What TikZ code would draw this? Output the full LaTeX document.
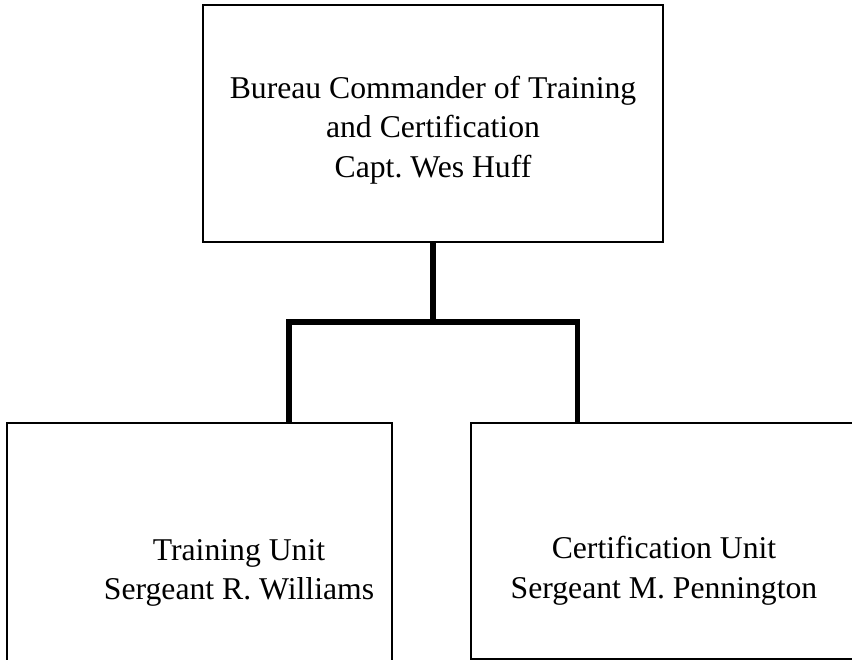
\documentclass[tikz,border=0pt]{standalone}
\usepackage{fontspec}
\setmainfont{Liberation Serif}
\frenchspacing
\begin{document}
\begin{tikzpicture}[x=1pt,y=-1pt,
  box/.style={draw=black, line width=1.6pt, rectangle, inner sep=0pt},
  label/.style={inner sep=0pt, align=center, font=\fontsize{31.7}{39.5}\selectfont},
  conn/.style={draw=black, line width=5.5pt, line join=miter, line cap=butt}]
\useasboundingbox (0,0) rectangle (852,660);
\clip (0,0) rectangle (852,660);
\fill[white] (0,0) rectangle (852,660);
% boxes
\node[box, minimum width=460pt, minimum height=237pt] (top) at (433,123.5) {};
\node[box, minimum width=385pt, minimum height=280pt] (left) at (199.5,563) {};
\node[box, minimum width=400pt, minimum height=236pt] (right) at (671,541) {};
% texts
\node[label] (toptext) at (433,130) {Bureau Commander of Training\\and Certification\\Capt.\ Wes Huff};
\node[label] (lefttext) at (239,573) {Training Unit\\Sergeant R.\ Williams};
\node[label] (righttext) at (664,571) {Certification Unit\\Sergeant M.\ Pennington};
% connectors
\coordinate (j) at (433,322);
\coordinate (jl) at (289,322);
\coordinate (jr) at (577.5,322);
\draw[conn] (top.south) -- (j);
\draw[conn] (jl |- left.north) -- (jl) -- (jr) -- (jr |- right.north);
\end{tikzpicture}
\end{document}
